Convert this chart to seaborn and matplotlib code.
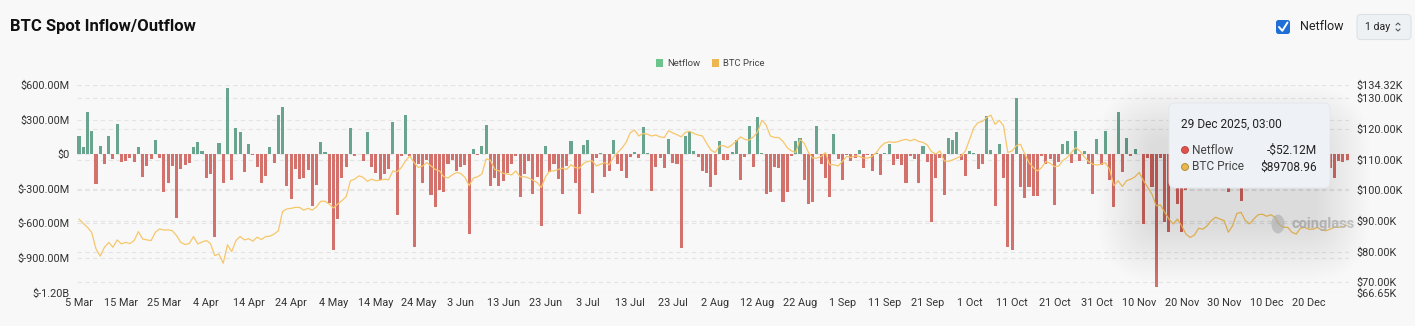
import numpy as np
import pandas as pd
import matplotlib
matplotlib.use("Agg")
import matplotlib.pyplot as plt
import matplotlib.transforms as mtrans
from matplotlib.patches import FancyBboxPatch, Circle, Rectangle, Ellipse
from matplotlib.lines import Line2D
import seaborn as sns

# ---------------- data ----------------
start_date = "2025-03-05"
n_days = 300

netflow_m = [
    160, 65, 365, 200, -255, 70, -81, 159, -38, 266,
    -66, -60, -29, -64, 64, -202, -101, -46, 127, -32,
    -324, -254, -104, -555, -133, -90, -75, 61, 104, 29,
    -211, -168, -722, 101, -254, 578, -223, 228, 194, -159,
    87, -5, -110, -254, -191, 58, -75, 338, 410, -277,
    -390, -130, -217, -211, -139, -451, -269, 104, 17, -422,
    -832, -564, -211, -110, 231, -12, 5, -58, 188, -110,
    -162, -228, -168, -130, 275, -526, -17, 344, -17, -806,
    -87, -254, -52, -355, -462, -312, -332, -81, -52, -145,
    -110, -90, -694, 49, -6, 69, 254, -272, -211, -277,
    -231, -162, -87, -12, -370, -168, -58, -347, -197, -624,
    69, -156, -87, -214, -347, -104, 113, -254, -520, 78,
    124, -341, -29, 9, -202, -147, 121, -81, -145, -211,
    -23, 17, -29, 237, 12, -318, -110, -35, -118, 130,
    -75, -87, -812, 156, 194, 29, -23, -145, -162, -289,
    -185, 116, -52, -52, 17, 121, -225, -23, 243, -110,
    324, 12, -347, -327, -110, -118, -419, -332, -12, 116,
    139, -225, -434, -413, 246, -81, -211, -370, 179, -46,
    -225, -10, -58, -29, 35, -116, -5, -145, 12, -182,
    9, 92, -92, -46, -95, -246, -17, -38, -249, 69,
    -66, -592, -211, -29, -355, 136, 121, 188, -52, -191,
    26, 9, -133, -87, 329, 38, -448, 87, -211, -803,
    -832, 488, -283, -379, -283, -364, -364, -12, -87, -46,
    -439, -69, 92, 113, -75, 197, -58, 29, -81, -347,
    133, -98, 197, -220, -462, 370, -153, 136, -12, 43,
    3, -607, -29, -283, -1156, -35, -587, -673, -120, -435,
    -673, -310, -85, 60, -140, -60, 45, -180, -95, 30,
    -150, -327, -70, -200, -408, -40, 55, -110, -65, -160,
    25, -90, -130, 40, -75, -180, -50, 70, -120, -35,
    -95, 20, -140, -60, -110, -122, -210, -58, -66, -52.12,
]

btc_price_k = [
    90.6, 89.2, 87.9, 86.2, 80.9, 78.5, 81.4, 83.0, 81.4, 83.8,
    82.5, 83.0, 82.6, 83.6, 86.5, 84.1, 83.8, 83.6, 86.3, 87.4,
    87.0, 87.1, 86.8, 85.2, 83.0, 82.3, 82.6, 84.9, 82.5, 83.1,
    83.6, 82.6, 78.7, 79.2, 76.2, 82.2, 80.0, 83.6, 84.9, 83.8,
    84.2, 83.4, 84.7, 83.9, 84.9, 85.0, 85.7, 86.8, 93.1, 93.9,
    94.1, 94.4, 94.4, 93.5, 94.1, 93.5, 94.6, 96.4, 96.4, 95.5,
    94.2, 95.5, 96.6, 97.9, 103.1, 103.6, 104.7, 104.2, 102.9, 103.6,
    103.1, 103.3, 103.6, 103.4, 106.3, 106.0, 107.4, 109.6, 111.2, 109.0,
    107.4, 107.9, 109.0, 107.9, 106.8, 106.3, 104.4, 104.0, 105.0, 105.8,
    105.5, 104.2, 101.5, 104.0, 104.4, 105.3, 110.2, 109.8, 106.8, 106.3,
    105.5, 105.3, 105.0, 106.3, 104.4, 104.4, 104.0, 103.3, 102.5, 100.9,
    104.4, 106.3, 106.3, 106.8, 107.2, 106.8, 108.3, 107.4, 107.2, 108.8,
    109.4, 109.6, 107.9, 108.5, 109.0, 108.3, 110.7, 112.3, 113.7, 115.6,
    118.8, 119.6, 117.7, 118.5, 118.3, 117.7, 118.0, 117.4, 117.2, 119.4,
    118.7, 118.1, 117.4, 118.9, 119.2, 118.5, 118.0, 117.7, 115.3, 113.1,
    112.3, 114.5, 114.5, 113.9, 114.8, 116.1, 117.4, 116.6, 116.3, 117.4,
    119.0, 122.8, 121.3, 117.7, 117.2, 117.2, 115.9, 113.9, 112.8, 112.3,
    116.6, 115.3, 112.3, 110.5, 110.5, 111.0, 112.3, 108.3, 108.3, 107.9,
    109.4, 111.0, 110.7, 111.2, 111.0, 110.5, 110.5, 111.0, 112.3, 114.2,
    115.4, 115.8, 115.6, 115.8, 116.3, 116.6, 116.1, 116.6, 115.9, 115.6,
    114.8, 112.6, 111.8, 112.8, 109.6, 109.4, 109.9, 110.5, 111.2, 112.8,
    116.6, 120.4, 122.1, 122.4, 123.7, 124.5, 121.5, 122.8, 121.0, 112.3,
    112.8, 114.5, 115.0, 111.8, 109.0, 107.4, 106.3, 107.4, 109.4, 108.8,
    107.7, 107.9, 109.7, 110.7, 112.3, 113.9, 112.8, 111.0, 109.4, 108.5,
    108.2, 108.5, 109.0, 106.8, 101.5, 103.1, 101.2, 103.1, 103.6, 104.4,
    105.8, 103.1, 100.9, 98.7, 94.9, 95.2, 92.8, 90.6, 89.0, 90.6,
    88.4, 85.7, 84.6, 85.4, 87.6, 87.3, 88.4, 90.1, 91.2, 90.6,
    90.1, 86.3, 88.4, 92.4, 92.8, 90.1, 89.0, 90.6, 92.0, 92.2,
    91.5, 92.0, 91.2, 88.8, 87.9, 87.9, 86.3, 85.7, 87.6, 87.9,
    87.3, 87.3, 87.9, 87.0, 86.8, 87.3, 87.9, 87.9, 88.1, 88.6,
]

left_ticks = [600, 300, 0, -300, -600, -900, -1200]
left_labels = ["$600.00M", "$300.00M", "$0", "$-300.00M", "$-600.00M", "$-900.00M", "$-1.20B"]
right_ticks = [134.32, 130, 120, 110, 100, 90, 80, 70, 66.65]
right_labels = ["$134.32K", "$130.00K", "$120.00K", "$110.00K", "$100.00K",
                "$90.00K", "$80.00K", "$70.00K", "$66.65K"]

tooltip_title = "29 Dec 2025, 03:00"
tooltip_netflow = "-$52.12M"
tooltip_price = "$89708.96"

# ---------------- styling ----------------
GREEN = "#5eae90"
RED = "#e4615b"
LINE = "#f6c76a"
BG = "#f8f8f8"
GRID = "#e4e4e4"
TXT = "#333333"

sns.set_theme(style="white")
plt.rcParams["font.family"] = ["Roboto", "DejaVu Sans"]

dates = pd.date_range(start_date, periods=n_days, freq="D")
df = pd.DataFrame({
    "idx": np.arange(n_days),
    "netflow": netflow_m,
    "price": btc_price_k,
})
df["sign"] = np.where(df["netflow"] >= 0, "in", "out")

W, H = 1415, 326
fig = plt.figure(figsize=(W / 100, H / 100), dpi=100, facecolor=BG)

ax_left, ax_right, ax_top, ax_bot = 76.9, 1349.2, 85.0, 292.5
ax = fig.add_axes([ax_left / W, 1 - ax_bot / H, (ax_right - ax_left) / W, (ax_bot - ax_top) / H])
ax.set_facecolor(BG)

sns.barplot(data=df, x="idx", y="netflow", hue="sign", palette={"in": GREEN, "out": RED},
            hue_order=["in", "out"], dodge=False, width=0.72, linewidth=0, legend=False,
            ax=ax, zorder=2)

ax.set_ylim(-1200, 600)
ax.set_xlim(-0.5, n_days - 0.5)
ax.set_yticks(left_ticks)
ax.set_yticklabels(left_labels)
ax.set_xticks(np.arange(0, n_days, 10))
ax.set_xticklabels([f"{d.day} {d.strftime('%b')}" for d in dates[::10]])
ax.set_xlabel("")
ax.set_ylabel("")

# grid lines (left scale + right scale converted to left units), dashed
for v in left_ticks:
    ax.axhline(v, color=GRID, lw=0.8, ls=(0, (4, 3)), zorder=0)
for p in right_ticks:
    v = -1200 + (p - 66.65) / (134.32 - 66.65) * 1800
    ax.axhline(v, color=GRID, lw=0.8, ls=(0, (4, 3)), zorder=0)

ax2 = ax.twinx()
sns.lineplot(data=df, x="idx", y="price", ax=ax2, color=LINE, lw=0.9, zorder=3)
ax2.set_ylim(66.65, 134.32)
ax2.set_yticks(right_ticks)
ax2.set_yticklabels(right_labels)
ax2.set_xlim(-0.5, n_days - 0.5)
ax2.set_ylabel("")
ax2.set_xlabel("")

for a in (ax, ax2):
    for s in a.spines.values():
        s.set_visible(False)
    a.tick_params(length=0, labelsize=7.8, colors=TXT)
    a.grid(False)
ax.tick_params(axis="y", pad=5)
ax.tick_params(axis="x", pad=4)
ax2.tick_params(axis="y", pad=5)

# ---------------- header ----------------
fig.text(10 / W, 1 - 27 / H, "BTC Spot Inflow/Outflow", fontsize=12, fontweight="bold",
         color="#111111", va="center", ha="left")

px = mtrans.Affine2D().scale(1 / 100) + fig.dpi_scale_trans  # pixel units, origin bottom-left


def Y(y):
    return H - y


# checkbox
fig.patches.append(FancyBboxPatch((1276, Y(34)), 14, 14, boxstyle="round,pad=0,rounding_size=2.5",
                                  transform=px, facecolor="#1f6fd6", edgecolor="none", zorder=10))
fig.lines.append(Line2D([1279, 1282.3, 1287.5], [Y(27), Y(30.8), Y(22.5)], transform=px,
                        color="white", lw=1.4, zorder=11, solid_capstyle="round"))
fig.text(1300 / W, 1 - 27 / H, "Netflow", fontsize=9, color="#222222", va="center", ha="left", zorder=11)
# period selector
fig.patches.append(FancyBboxPatch((1357, Y(39.5)), 54, 25, boxstyle="round,pad=0,rounding_size=4",
                                  transform=px, facecolor="#eef1f4", edgecolor="#dde1e6", lw=0.8, zorder=10))
fig.text(1365 / W, 1 - 27 / H, "1 day", fontsize=7.6, color="#222222", va="center", ha="left", zorder=11)
fig.lines.append(Line2D([1396, 1398, 1400], [Y(25), Y(23), Y(25)], transform=px, color="#555555", lw=0.8, zorder=11))
fig.lines.append(Line2D([1396, 1398, 1400], [Y(29), Y(31), Y(29)], transform=px, color="#555555", lw=0.8, zorder=11))

# legend
fig.patches.append(Rectangle((656, Y(67)), 7, 8, transform=px, facecolor="#6cc38b", edgecolor="none", zorder=10))
fig.text(667 / W, 1 - 63 / H, "Netflow", fontsize=6.8, color="#444444", va="center", ha="left", zorder=11)
fig.patches.append(Rectangle((712, Y(67)), 7, 8, transform=px, facecolor="#ecb752", edgecolor="none", zorder=10))
fig.text(723 / W, 1 - 63 / H, "BTC Price", fontsize=6.8, color="#444444", va="center", ha="left", zorder=11)

# watermark
fig.patches.append(Ellipse((1278, Y(224)), 13, 19, transform=px, facecolor="#c6c6c6", edgecolor="none", alpha=0.6, zorder=4))
fig.text(1292 / W, 1 - 224 / H, "coinglass", fontsize=10.5, fontweight="bold", color="#c4c4c4",
         va="center", ha="left", alpha=0.9, zorder=4)

# ---------------- tooltip with soft shadow ----------------
tx0, ty0, tx1, ty1 = 1169, 103, 1330, 188
n_layers = 28
for k in range(n_layers, 0, -1):
    e = 2.0 * k
    fig.patches.append(FancyBboxPatch((tx0 - e - 16, Y(ty1 + 38) - e), (tx1 - tx0) + 2 * e, (ty1 - ty0) + 2 * e,
                                      boxstyle=f"round,pad=0,rounding_size={8 + e}", transform=px,
                                      facecolor="black", edgecolor="none", alpha=0.0055, zorder=8))
fig.patches.append(FancyBboxPatch((tx0, Y(ty1)), tx1 - tx0, ty1 - ty0, boxstyle="round,pad=0,rounding_size=6",
                                  transform=px, facecolor="#eef1f5", edgecolor="#e2e6ea", lw=0.6, zorder=9))
fig.text(1181 / W, 1 - 124 / H, tooltip_title, fontsize=8.6, color="#222222", va="center", ha="left", zorder=10)
fig.patches.append(Circle((1185, Y(150)), 3.5, transform=px, facecolor="#e0524c", edgecolor="#b8403b", lw=0.6, zorder=10))
fig.patches.append(Circle((1185, Y(167)), 3.5, transform=px, facecolor="#e8b64a", edgecolor="#a98a3a", lw=0.6, zorder=10))
fig.text(1192 / W, 1 - 150 / H, "Netflow", fontsize=8.6, color="#444444", va="center", ha="left", zorder=10)
fig.text(1192 / W, 1 - 167 / H, "BTC Price", fontsize=8.6, color="#444444", va="center", ha="left", zorder=10)
fig.text(1317 / W, 1 - 150 / H, tooltip_netflow, fontsize=8.6, color="#222222", va="center", ha="right", zorder=10)
fig.text(1317 / W, 1 - 167 / H, tooltip_price, fontsize=8.6, color="#222222", va="center", ha="right", zorder=10)

fig.savefig("out.png", dpi=100, facecolor=BG)
